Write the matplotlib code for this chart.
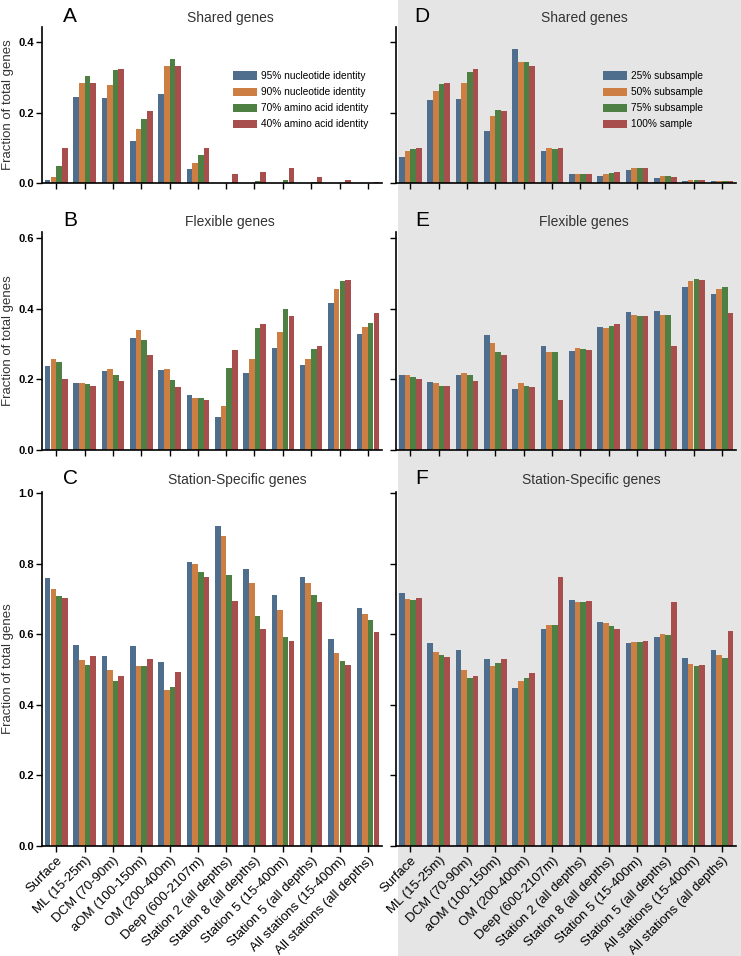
import matplotlib.pyplot as plt
from matplotlib.patches import Rectangle
from matplotlib.ticker import FormatStrFormatter
import numpy as np

plt.rcParams["font.family"] = ["Liberation Sans", "DejaVu Sans"]

categories = [
    "Surface", "ML (15-25m)", "DCM (70-90m)", "aOM (100-150m)", "OM (200-400m)",
    "Deep (600-2107m)", "Station 2 (all depths)", "Station 8 (all depths)",
    "Station 5 (15-400m)", "Station 5 (all depths)", "All stations (15-400m)",
    "All stations (all depths)",
]
identity_labels = ["95% nucleotide identity", "90% nucleotide identity",
                   "70% amino acid identity", "40% amino acid identity"]
subsample_labels = ["25% subsample", "50% subsample", "75% subsample", "100% sample"]
colors = ["#4f6e8d", "#cd7e42", "#4e8043", "#a84f4d"]

# A - shared genes, identity thresholds
shared_nt95 = [0.009, 0.244, 0.241, 0.119, 0.252, 0.039, 0.0, 0.0, 0.0, 0.0, 0.0, 0.0]
shared_nt90 = [0.016, 0.283, 0.277, 0.152, 0.332, 0.056, 0.0, 0.0, 0.0, 0.0, 0.0, 0.0]
shared_aa70 = [0.047, 0.303, 0.322, 0.182, 0.351, 0.079, 0.001, 0.005, 0.009, 0.003, 0.001, 0.001]
shared_aa40 = [0.100, 0.284, 0.323, 0.205, 0.332, 0.098, 0.025, 0.030, 0.043, 0.017, 0.009, 0.004]

# B - flexible genes, identity thresholds
flex_nt95 = [0.237, 0.189, 0.223, 0.316, 0.227, 0.156, 0.094, 0.217, 0.289, 0.241, 0.415, 0.328]
flex_nt90 = [0.257, 0.189, 0.228, 0.340, 0.228, 0.147, 0.125, 0.257, 0.333, 0.257, 0.455, 0.347]
flex_aa70 = [0.249, 0.187, 0.211, 0.310, 0.198, 0.146, 0.231, 0.344, 0.400, 0.285, 0.479, 0.360]
flex_aa40 = [0.201, 0.180, 0.196, 0.268, 0.179, 0.142, 0.283, 0.356, 0.379, 0.294, 0.481, 0.387]

# C - station-specific genes, identity thresholds
spec_nt95 = [0.759, 0.569, 0.538, 0.567, 0.520, 0.806, 0.908, 0.785, 0.712, 0.761, 0.587, 0.673]
spec_nt90 = [0.728, 0.527, 0.498, 0.510, 0.442, 0.798, 0.877, 0.744, 0.668, 0.746, 0.547, 0.656]
spec_aa70 = [0.709, 0.513, 0.468, 0.510, 0.451, 0.775, 0.769, 0.653, 0.593, 0.710, 0.523, 0.641]
spec_aa40 = [0.702, 0.537, 0.482, 0.530, 0.492, 0.762, 0.694, 0.616, 0.580, 0.692, 0.512, 0.607]

# D - shared genes, subsamples
shared_s25 = [0.074, 0.236, 0.238, 0.147, 0.380, 0.090, 0.025, 0.020, 0.038, 0.014, 0.005, 0.005]
shared_s50 = [0.090, 0.262, 0.284, 0.189, 0.344, 0.098, 0.025, 0.026, 0.043, 0.019, 0.008, 0.005]
shared_s75 = [0.096, 0.281, 0.315, 0.207, 0.343, 0.096, 0.025, 0.028, 0.043, 0.020, 0.008, 0.005]
shared_s100 = [0.100, 0.284, 0.323, 0.204, 0.332, 0.098, 0.025, 0.031, 0.043, 0.017, 0.008, 0.005]

# E - flexible genes, subsamples
flex_s25 = [0.212, 0.192, 0.212, 0.326, 0.173, 0.295, 0.281, 0.348, 0.391, 0.394, 0.461, 0.442]
flex_s50 = [0.213, 0.190, 0.218, 0.302, 0.190, 0.277, 0.288, 0.345, 0.382, 0.382, 0.479, 0.455]
flex_s75 = [0.208, 0.180, 0.213, 0.278, 0.181, 0.278, 0.285, 0.352, 0.380, 0.382, 0.484, 0.462]
flex_s100 = [0.201, 0.180, 0.196, 0.268, 0.179, 0.142, 0.283, 0.356, 0.379, 0.295, 0.481, 0.388]

# F - station-specific genes, subsamples
spec_s25 = [0.716, 0.575, 0.554, 0.530, 0.448, 0.615, 0.696, 0.634, 0.574, 0.593, 0.534, 0.555]
spec_s50 = [0.699, 0.551, 0.498, 0.510, 0.468, 0.627, 0.690, 0.631, 0.579, 0.600, 0.517, 0.541]
spec_s75 = [0.696, 0.541, 0.475, 0.518, 0.477, 0.627, 0.691, 0.623, 0.578, 0.599, 0.510, 0.534]
spec_s100 = [0.702, 0.536, 0.481, 0.530, 0.491, 0.762, 0.694, 0.616, 0.580, 0.691, 0.512, 0.608]

W, H = 741, 956
fig = plt.figure(figsize=(W / 100, H / 100), dpi=100)
# grey backdrop behind the right column
fig.patches.append(Rectangle((398 / W, 0), 1, 1, transform=fig.transFigure,
                             facecolor="#e5e5e5", edgecolor="none", zorder=-10))


def add_px_axes(x0, x1, y0, y1):
    ax = fig.add_axes([x0 / W, 1 - y1 / H, (x1 - x0) / W, (y1 - y0) / H])
    ax.patch.set_visible(False)
    return ax


rows = [
    (27, 183, 0.443, [0, 0.2, 0.4], "Shared genes", "A", "D",
     [shared_nt95, shared_nt90, shared_aa70, shared_aa40],
     [shared_s25, shared_s50, shared_s75, shared_s100]),
    (232, 450, 0.617, [0, 0.2, 0.4, 0.6], "Flexible genes", "B", "E",
     [flex_nt95, flex_nt90, flex_aa70, flex_aa40],
     [flex_s25, flex_s50, flex_s75, flex_s100]),
    (492, 846, 1.003, [0, 0.2, 0.4, 0.6, 0.8, 1.0], "Station-Specific genes", "C", "F",
     [spec_nt95, spec_nt90, spec_aa70, spec_aa40],
     [spec_s25, spec_s50, spec_s75, spec_s100]),
]
title_y = [18, 222, 480]
title_dx = [18, 18, 25]

x = np.arange(len(categories))
for r, (top, bot, ymax, yticks, title, lab_l, lab_r, left_series, right_series) in enumerate(rows):
    for col, (x0, x1, letter, series, labels) in enumerate([
        (42, 382, lab_l, left_series, identity_labels),
        (396, 736, lab_r, right_series, subsample_labels),
    ]):
        ax = add_px_axes(x0, x1, top, bot)
        for i, vals in enumerate(series):
            ax.bar(x - 0.3 + 0.2 * i, vals, width=0.2, color=colors[i],
                   label=labels[i], linewidth=0)
        ax.set_xlim(-0.5, len(categories) - 0.5)
        ax.set_ylim(0, ymax)
        ax.set_yticks(yticks)
        ax.yaxis.set_major_formatter(FormatStrFormatter("%.1f"))
        for s in ["top", "right"]:
            ax.spines[s].set_visible(False)
        for s in ["left", "bottom"]:
            ax.spines[s].set_linewidth(1.2)
        ax.tick_params(direction="out", length=4, width=1.0, labelsize=8, pad=2)
        ax.set_xticks(x)
        if r == 2:
            ax.set_xticklabels(categories, rotation=45, ha="right",
                               rotation_mode="anchor", fontsize=9.5)
        else:
            ax.set_xticklabels([])
        if col == 0:
            for t in ax.get_yticklabels():
                t.set_fontweight("bold")
            ax.set_ylabel("Fraction of total genes", fontsize=9.5, color="#333333")
            ax.yaxis.set_label_coords(-0.082, 0.5)
        else:
            ax.set_yticklabels([])
        if r == 0:
            ax.legend(loc="upper left",
                      bbox_to_anchor=(((233 if col == 0 else 603) - x0) / 340, (183 - 71) / 156),
                      frameon=False, fontsize=7.3, handlelength=2.4, handleheight=0.85,
                      handletextpad=0.35, labelspacing=0.6, borderpad=0, borderaxespad=0)
        cx = (x0 + x1) / 2 + title_dx[r]
        fig.text(cx / W, 1 - title_y[r] / H, title, ha="center", va="center",
                 fontsize=10, color="#333333")
        fig.text((70 if col == 0 else 422) / W, 1 - (title_y[r] - 1) / H, letter,
                 ha="center", va="center", fontsize=15)

plt.savefig("out.png", dpi=100)
